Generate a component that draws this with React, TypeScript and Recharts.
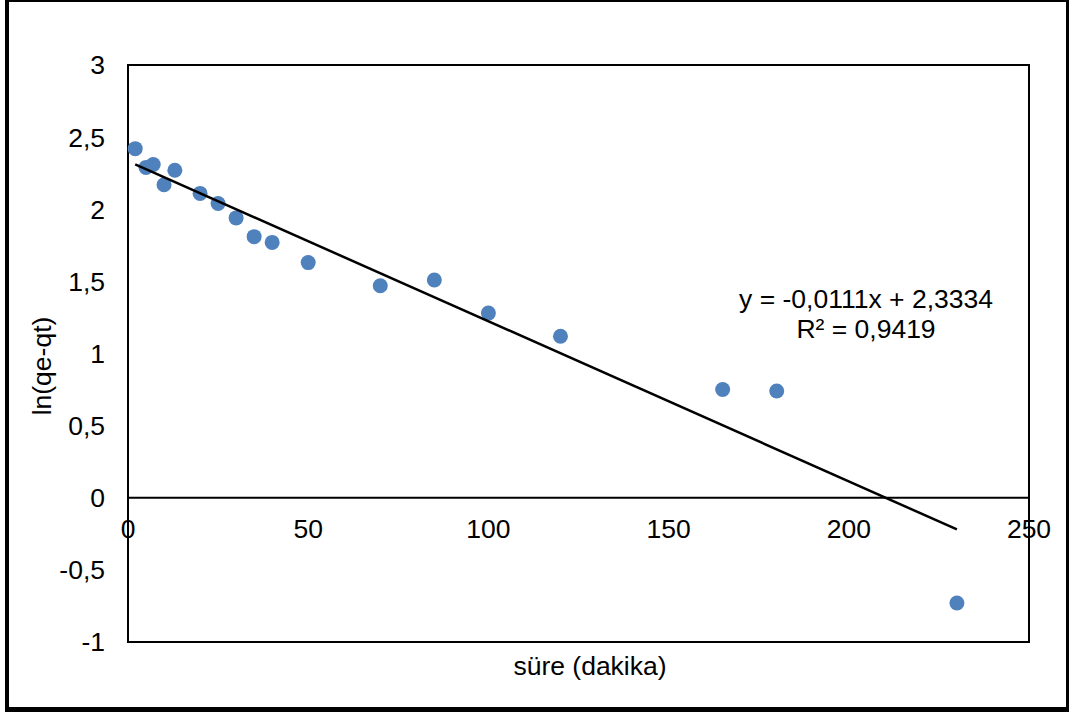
import React from "react"
import { ScatterChart, Scatter, XAxis, YAxis, ReferenceLine, ReferenceArea } from "recharts"

// measured points: time (min) vs ln(qe-qt)
const times = [2, 5, 7, 10, 13, 20, 25, 30, 35, 40, 50, 70, 85, 100, 120, 165, 180, 230]
const lnValues = [2.42, 2.29, 2.31, 2.17, 2.27, 2.11, 2.04, 1.94, 1.81, 1.77, 1.63, 1.47, 1.51, 1.28, 1.12, 0.75, 0.74, -0.73]

const xTicks = [0, 50, 100, 150, 200, 250]
const yTicks = [-1, -0.5, 0, 0.5, 1, 1.5, 2, 2.5, 3]

// linear trendline shown on the chart
const slope = -0.0111
const intercept = 2.3334
const trendRange = [2, 230]

const points = times.map((t, i) => ({ x: t, y: lnValues[i] }))
const trend = trendRange.map((x) => ({ x, y: slope * x + intercept }))

const FONT = "'Liberation Sans', Arial, sans-serif"
const FS = 26.5
const fmt = (v: number) => String(v).replace(".", ",")

const Dot = (props: any) => <circle cx={props.cx} cy={props.cy} r={7.5} fill="#4F81BD" />

const XTick = (props: any) => (
  <text x={props.x} y={props.y - 104} textAnchor="middle" fontSize={FS} fontFamily={FONT} fill="#000">
    {props.payload.value}
  </text>
)

export default function App() {
  return (
    <div style={{ position: "absolute", left: 0, top: 0, width: 1070, height: 715, background: "#fff", fontFamily: FONT }}>
      <div
        style={{
          position: "absolute", left: 5, top: 0, width: 1064, height: 712, boxSizing: "border-box",
          borderLeft: "4px solid #000", borderTop: "2px solid #000", borderRight: "3px solid #000", borderBottom: "5px solid #000",
        }}
      />
      <div style={{ position: "absolute", left: 0, top: 0 }}>
        <ScatterChart width={1070} height={715} margin={{ top: 65, right: 41, bottom: 43, left: 0 }}>
          <XAxis
            type="number"
            dataKey="x"
            domain={[0, 250]}
            ticks={xTicks}
            axisLine={false}
            tickLine={false}
            tickSize={0}
            tickMargin={0}
            height={30}
            tick={<XTick />}
            interval={0}
          />
          <YAxis
            type="number"
            dataKey="y"
            domain={[-1, 3]}
            ticks={yTicks}
            axisLine={false}
            tickLine={false}
            tickSize={0}
            tickMargin={23}
            width={128}
            interval={0}
            tickFormatter={fmt}
            tick={{ fontSize: FS, fontFamily: FONT, fill: "#000" }}
          />
          <ReferenceArea x1={0} x2={250} y1={-1} y2={3} fill="none" stroke="#000" strokeWidth={2} ifOverflow="visible" />
          <ReferenceLine y={0} stroke="#000" strokeWidth={2} />
          <Scatter data={points} shape={<Dot />} isAnimationActive={false} />
          <Scatter data={trend} line={{ stroke: "#000", strokeWidth: 2.5 }} shape={() => null} isAnimationActive={false} />
        </ScatterChart>
      </div>
      <div style={{ position: "absolute", left: 666, top: 284, width: 400, textAlign: "center", fontSize: FS, lineHeight: "30px", color: "#000" }}>
        y = -0,0111x + 2,3334
        <br />
        R² = 0,9419
      </div>
      <div style={{ position: "absolute", left: 390, top: 651, width: 400, textAlign: "center", fontSize: FS, lineHeight: "30px", color: "#000" }}>
        süre (dakika)
      </div>
      <div
        style={{
          position: "absolute", left: 42 - 100, top: 366 - 15, width: 200, textAlign: "center", fontSize: FS, lineHeight: "30px",
          color: "#000", transform: "rotate(-90deg)",
        }}
      >
        ln(qe-qt)
      </div>
    </div>
  )
}
